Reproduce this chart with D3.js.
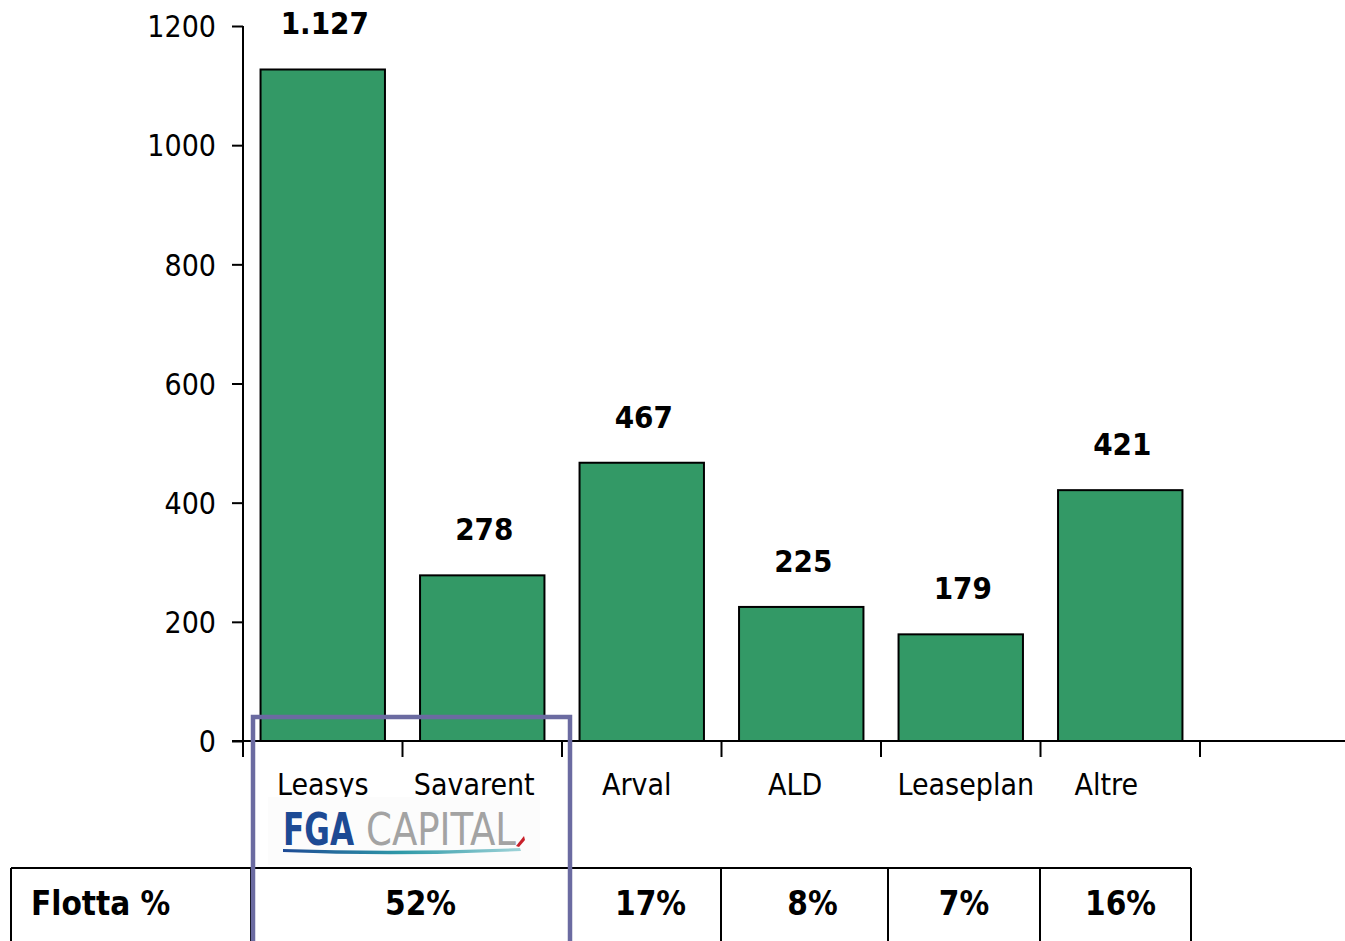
<!DOCTYPE html>
<html><head><meta charset="utf-8">
<script src="https://cdn.jsdelivr.net/npm/d3@7/dist/d3.min.js"></script>
<style>
html,body{margin:0;padding:0;background:#fff;}
svg{display:block;font-family:"DejaVu Sans Condensed","DejaVu Sans",sans-serif;font-stretch:condensed;}
</style></head>
<body>
<svg id="chart" width="1345" height="941"></svg>
<script>
const categories = ["Leasys","Savarent","Arval","ALD","Leaseplan","Altre"];
const values = [1127, 278, 467, 225, 179, 421];
const valueLabels = ["1.127","278","467","225","179","421"];
const yTicks = [0,200,400,600,800,1000,1200];
const tableHeader = "Flotta %";
const tableValues = ["52%","17%","8%","7%","16%"];

const svg = d3.select("#chart");
const FONT = 30;

const x = d3.scaleBand().domain(categories).range([243,1200]).paddingInner(0.22).paddingOuter(0.11);
const y = d3.scaleLinear().domain([0,1200]).range([741,26]);

// y axis
const yAxis = d3.axisLeft(y).tickValues(yTicks).tickSize(11).tickPadding(16).tickFormat(d3.format("d"));
const yg = svg.append("g").attr("transform","translate(243,0)").call(yAxis);
yg.select(".domain").attr("d","M0,26V757").attr("stroke","#000").attr("stroke-width",2);
yg.selectAll(".tick line").attr("stroke","#000").attr("stroke-width",2);
yg.selectAll(".tick text").attr("font-size",FONT).attr("fill","#000").attr("dy","0.36em")
  .attr("font-family","'DejaVu Sans Condensed','DejaVu Sans',sans-serif");

// bars
svg.append("g").selectAll("rect").data(categories).join("rect")
  .attr("x",d=>x(d)).attr("width",x.bandwidth())
  .attr("y",(d,i)=>y(values[i])).attr("height",(d,i)=>y(0)-y(values[i]))
  .attr("fill","#339966").attr("stroke","#000").attr("stroke-width",2);

// x axis line
svg.append("line").attr("x1",232).attr("x2",1345).attr("y1",y(0)).attr("y2",y(0)).attr("stroke","#000").attr("stroke-width",2);
const step = x.step();
const tickXs = categories.map(c=>x(c)-step*x.paddingInner()/2).concat([x.range()[1]]);
svg.append("g").selectAll("line").data(tickXs).join("line")
  .attr("x1",d=>d).attr("x2",d=>d).attr("y1",y(0)).attr("y2",y(0)+16)
  .attr("stroke","#000").attr("stroke-width",2);

// value labels
svg.append("g").selectAll("text").data(categories).join("text")
  .attr("x",d=>x(d)+x.bandwidth()/2+2)
  .attr("y",(d,i)=>y(values[i])-35)
  .attr("text-anchor","middle").attr("font-size",FONT+1).attr("font-weight","bold")
  .text((d,i)=>valueLabels[i]);

// category labels (small centring nudges as in the original)
const labelNudge = {"Leasys":0,"Savarent":-8,"Arval":-5,"ALD":-6,"Leaseplan":5,"Altre":-14};
svg.append("g").selectAll("text").data(categories).join("text")
  .attr("x",d=>x(d)+x.bandwidth()/2 + labelNudge[d])
  .attr("y",795)
  .attr("text-anchor","middle").attr("font-size",FONT)
  .text(d=>d);

// logo
const logo = svg.append("g");
logo.append("rect").attr("x",268).attr("y",797).attr("width",272).attr("height",68).attr("fill","#fcfcfc");
logo.append("text").attr("x",283).attr("y",845).attr("font-size",44).attr("font-weight","bold")
  .attr("fill","#1d4a94").attr("textLength",71).attr("lengthAdjust","spacingAndGlyphs").text("FGA");
logo.append("text").attr("x",366).attr("y",845).attr("font-size",44)
  .attr("fill","#a3a3a3").attr("textLength",150).attr("lengthAdjust","spacingAndGlyphs").text("CAPITAL");
const grad = svg.append("defs").append("linearGradient").attr("id","sw").attr("x1","0").attr("x2","1");
grad.append("stop").attr("offset","0").attr("stop-color","#1d4a94");
grad.append("stop").attr("offset","0.5").attr("stop-color","#2f9aa8");
grad.append("stop").attr("offset","1").attr("stop-color","#9fd3d8");
logo.append("path").attr("d","M283,849 Q400,853 520,848 L521,851 Q400,857 283,852 Z").attr("fill","url(#sw)");
logo.append("path").attr("d","M516,846 L524,836 L525,840 L519,847 Z").attr("fill","#c8202a");

// table
const colEdges = [11,251,570,721,888,1040,1191];
const tableTop = 868;
const TFONT = 33;
const tg = svg.append("g");
tg.append("line").attr("x1",colEdges[0]).attr("x2",colEdges[colEdges.length-1]).attr("y1",tableTop).attr("y2",tableTop)
  .attr("stroke","#000").attr("stroke-width",2);
tg.selectAll("line.v").data(colEdges).join("line").attr("class","v")
  .attr("x1",d=>d).attr("x2",d=>d).attr("y1",tableTop).attr("y2",941)
  .attr("stroke","#000").attr("stroke-width",2);
tg.append("text").attr("x",31).attr("y",915).attr("font-size",TFONT).attr("font-weight","bold").text(tableHeader);
tg.selectAll("text.v").data(tableValues).join("text").attr("class","v")
  .attr("x",(d,i)=>(colEdges[i+1]+colEdges[i+2])/2 + [10,5,8,0,5][i])
  .attr("y",915).attr("text-anchor","middle").attr("font-size",TFONT).attr("font-weight","bold").text(d=>d);

// highlight box
svg.append("path").attr("d","M253,941V717H570V941").attr("fill","none").attr("stroke","#6b6ba1").attr("stroke-width",4.5);
</script>
</body></html>
